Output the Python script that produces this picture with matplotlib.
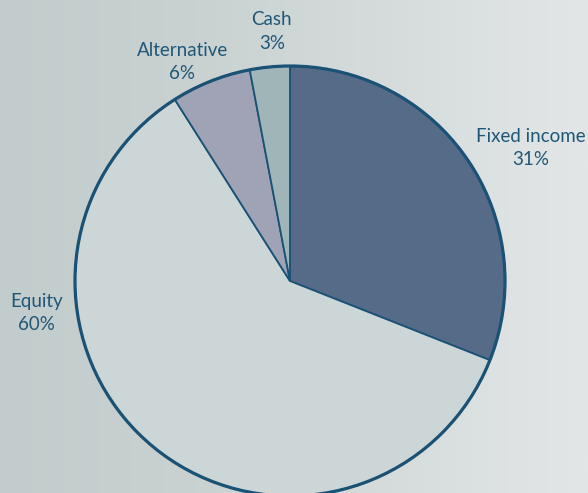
import numpy as np
import matplotlib.pyplot as plt
from matplotlib.patches import Circle
from matplotlib.colors import LinearSegmentedColormap

# Asset allocation (clockwise from 12 o'clock)
categories = ['Fixed income', 'Equity', 'Alternative', 'Cash']
shares = [31, 60, 6, 3]
colors = ['#566b88', '#ccd6d6', '#a0a3b6', '#a0b5b8']

# label anchor points (pie radius = 1)
label_pos = [(1.12, 0.62), (-1.18, -0.15), (-0.50, 1.02), (-0.085, 1.16)]

text_col = '#1f5777'
edge_col = '#1a5276'

W, H, DPI = 588, 493, 100
cx, cy, r = 290, 281, 215

fig = plt.figure(figsize=(W / DPI, H / DPI), dpi=DPI)

# background gradient, darker on the left
bg = fig.add_axes([0, 0, 1, 1], zorder=0)
cmap = LinearSegmentedColormap.from_list('bg', ['#c3cccc', '#c9d1d1', '#d6dcdc', '#e2e6e6'])
bg.imshow(np.linspace(0, 1, 256)[None, :], aspect='auto', cmap=cmap, extent=[0, 1, 0, 1])
bg.axis('off')

ax = fig.add_axes([0, 0, 1, 1], zorder=1)
ax.patch.set_visible(False)
wedges, _ = ax.pie(shares, colors=colors, startangle=90, counterclock=False,
                   wedgeprops=dict(edgecolor=edge_col, linewidth=1.3))
ax.add_patch(Circle((0, 0), 1, fill=False, edgecolor=edge_col, linewidth=2.3))

for name, val, (x, y) in zip(categories, shares, label_pos):
    ax.text(x, y, f'{name}\n{val}%', ha='center', va='center', color=text_col,
            fontsize=13.5, family=['Lato', 'DejaVu Sans'], linespacing=1.45)

ax.set_aspect('auto')
ax.set_xlim(-cx / r, (W - cx) / r)
ax.set_ylim((cy - H) / r, cy / r)
ax.axis('off')

fig.savefig('out.png', dpi=DPI)
